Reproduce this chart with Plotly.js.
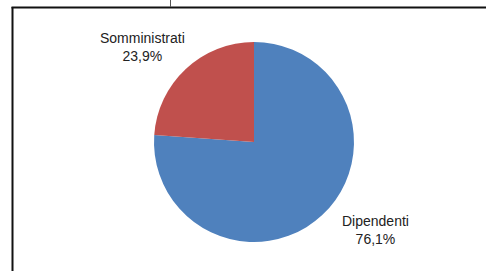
<!DOCTYPE html>
<html>
<head>
<meta charset="utf-8">
<script src="https://cdn.plot.ly/plotly-3.0.1.min.js"></script>
<style>html,body{margin:0;padding:0;background:#fff;}#chart{width:486px;height:271px;}</style>
</head>
<body>
<div id="chart"></div>
<script>
var categories = ["Dipendenti", "Somministrati"];
var values = [76.1, 23.9];
var colors = ["#4F81BD", "#C0504D"];

function fmt(v) { return v.toFixed(1).replace('.', ',') + '%'; }

var W = 486, H = 271;
var cx = 254, cy = 142, r = 100;

var trace = {
  type: 'pie',
  labels: categories,
  values: values,
  sort: false,
  direction: 'clockwise',
  rotation: 0,
  textinfo: 'none',
  hoverinfo: 'label+percent',
  marker: { colors: colors, line: { width: 0 } },
  showlegend: false,
  domain: { x: [(cx - r) / W, (cx + r) / W], y: [1 - (cy + r) / H, 1 - (cy - r) / H] }
};

var labelPos = [
  { x: 375, y: 230 },
  { x: 142, y: 47 }
];

var annotations = categories.map(function (c, i) {
  return {
    xref: 'paper', yref: 'paper',
    x: labelPos[i].x / W, y: 1 - labelPos[i].y / H,
    xanchor: 'center', yanchor: 'middle',
    text: c + '<br>' + fmt(values[i]),
    showarrow: false,
    align: 'center',
    font: { family: 'Liberation Sans, Arial, sans-serif', size: 14, color: '#222' }
  };
});

var layout = {
  width: W, height: H,
  margin: { l: 0, r: 0, t: 0, b: 0 },
  paper_bgcolor: '#fff',
  annotations: annotations,
  shapes: [
    { type: 'line', xref: 'paper', yref: 'paper', x0: 12.5 / W, x1: 12.5 / W, y0: 1 - 7 / H, y1: -0.05, line: { color: '#111', width: 2 } },
    { type: 'line', xref: 'paper', yref: 'paper', x0: 11.5 / W, x1: 1.05, y0: 1 - 7.5 / H, y1: 1 - 7.5 / H, line: { color: '#111', width: 2 } },
    { type: 'line', xref: 'paper', yref: 'paper', x0: 170.5 / W, x1: 170.5 / W, y0: 1, y1: 1 - 7 / H, line: { color: '#555', width: 1 } }
  ]
};

Plotly.newPlot('chart', [trace], layout, { displayModeBar: false, staticPlot: true });
</script>
</body>
</html>
